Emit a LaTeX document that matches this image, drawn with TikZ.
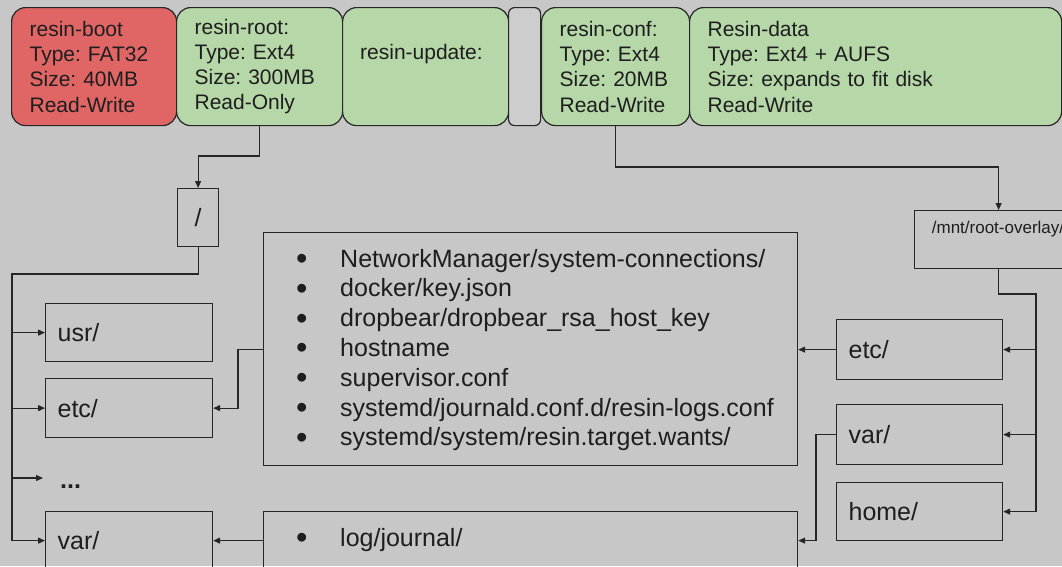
\documentclass[tikz,border=0pt]{standalone}
\usepackage{fontspec}
\setmainfont{Liberation Sans}
\usetikzlibrary{arrows.meta}
\definecolor{bg}{HTML}{C7C7C7}
\definecolor{redp}{HTML}{E06666}
\definecolor{greenp}{HTML}{B6D7A8}
\definecolor{greyp}{HTML}{CDCDCD}
\definecolor{linec}{HTML}{262626}
\definecolor{txt}{HTML}{1E1E1E}
\newcommand\myitem{\makebox[44pt][l]{\raisebox{-2.5pt}{\scalebox{1.3}{•}}}}
\begin{document}
\frenchspacing
\begin{tikzpicture}[x=1pt,y=-1pt,
  part/.style={draw=linec, line width=1.2pt, rounded corners=14pt, anchor=north west,
    minimum height=118pt, inner xsep=18pt, inner ysep=0pt, align=left,
    font=\fontsize{21}{25.3}\selectfont, text=txt},
  dirbox/.style={draw=linec, line width=1.2pt, anchor=north west, inner xsep=12pt,
    inner ysep=0pt, align=left, font=\fontsize{25}{30}\selectfont, text=txt},
  lbl/.style={inner sep=0pt, text=txt, align=left},
  conn/.style={draw=linec, line width=1.2pt},
  arr/.style={conn, -{Triangle[length=7pt,width=6pt]}}
]
\useasboundingbox (0,0) rectangle (1062,566);
\fill[bg] (0,0) rectangle (1062,566);

% partitions
\node[part, fill=redp, text width=129pt] (boot) at (11,7)
  {resin-boot\\Type: FAT32\\Size: 40MB\\Read-Write};
\node[part, fill=greenp, text width=130pt] (root) at (176,7)
  {resin-root:\\Type: Ext4\\Size: 300MB\\Read-Only};
\node[part, fill=greenp, minimum width=166pt] (update) at (342,7) {};
\node[lbl, anchor=west, font=\fontsize{21}{25.3}\selectfont] (updtxt) at (360,54) {resin-update:};
\node[part, fill=greyp, minimum width=32pt, inner xsep=0pt, rounded corners=6pt] (gap) at (508,7) {};
\node[part, fill=greenp, text width=112pt] (conf) at (541,7)
  {resin-conf:\\Type: Ext4\\Size: 20MB\\Read-Write};
\node[part, fill=greenp, text width=336pt] (data) at (689,7)
  {Resin-data\\Type: Ext4 + AUFS\\Size: expands to fit disk\\Read-Write};

% left tree
\node[dirbox, minimum width=41pt, minimum height=58pt, inner xsep=0pt] (slash) at (177,188) {/};
\node[dirbox, text width=143pt, minimum height=58pt] (usr) at (45,303) {usr/};
\node[dirbox, text width=143pt, minimum height=59pt] (etc) at (45,378) {etc/};
\node[lbl, anchor=base west, font=\fontsize{25}{30}\selectfont] (dots) at (60,488) {\textbf{...}};
\coordinate (dotsend) at (43,478);
\node[dirbox, text width=143pt, minimum height=58pt] (var) at (45,511) {var/};

% lists
\node[dirbox, minimum width=534pt, minimum height=233pt] (list1) at (263,232) {};
\node[lbl, anchor=west, font=\fontsize{25}{29.8}\selectfont] (list1txt) at (296,350)
  {\myitem NetworkManager/system-connections/\\
   \myitem docker/key.json\\
   \myitem dropbear/dropbear\_rsa\_host\_key\\
   \myitem hostname\\
   \myitem supervisor.conf\\
   \myitem systemd/journald.conf.d/resin-logs.conf\\
   \myitem systemd/system/resin.target.wants/};
\node[dirbox, minimum width=534pt, minimum height=58pt] (list2) at (263,511) {};
\node[lbl, anchor=west, font=\fontsize{25}{29.8}\selectfont] (list2txt) at (296,540)
  {\myitem log/journal/};

% right tree
\node[dirbox, minimum width=168pt, minimum height=58pt] (overlay) at (914,210) {};
\node[lbl, font=\fontsize{17}{20}\selectfont] (ovtxt) at (998,229) {/mnt/root-overlay/};
\node[dirbox, text width=142pt, minimum height=60pt] (etc2) at (836,319) {etc/};
\node[dirbox, text width=142pt, minimum height=60pt] (var2) at (836,404) {var/};
\node[dirbox, text width=142pt, minimum height=58pt] (home) at (836,482) {home/};

% connectors
\draw[arr] (root.south) -- (root.south |- 0,156) -| (slash.north);
\coordinate (trunk) at (12,274);
\draw[arr] (slash.south) |- (trunk) |- (var.west);
\draw[arr] (trunk |- usr.west) -- (usr.west);
\draw[arr] (trunk |- etc.west) -- (etc.west);
\draw[arr] (trunk |- dotsend) -- (dotsend);
\draw[arr] (list1.west) -- ++(-25,0) |- (etc.east);
\draw[arr] (list2.west) -- (var.east);

\draw[arr] (conf.south) |- (overlay.north |- 0,167) -- (overlay.north);
\coordinate (rtrunk) at (1036,294);
\draw[arr] (overlay.south) |- (rtrunk) |- (home.east);
\draw[arr] (rtrunk |- etc2.east) -- (etc2.east);
\draw[arr] (rtrunk |- var2.east) -- (var2.east);
\draw[arr] (etc2.west) -- (etc2.west -| list1.east);
\draw[arr] (var2.west) -- ++(-20,0) |- (list2.east);
\end{tikzpicture}
\end{document}
